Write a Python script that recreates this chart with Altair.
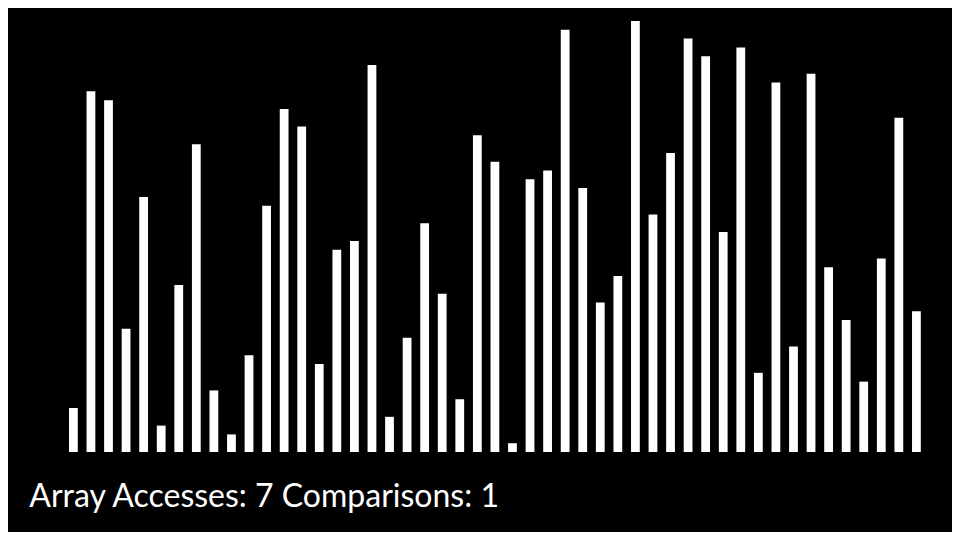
import altair as alt
import pandas as pd

# Bar values (a permutation of 1..49), read left to right
values = [5, 41, 40, 14, 29, 3, 19, 35, 7, 2, 11, 28, 39, 37, 10, 23, 24,
          44, 4, 13, 26, 18, 6, 36, 33, 1, 31, 32, 48, 30, 17, 20, 49, 27,
          34, 47, 45, 25, 46, 9, 42, 12, 43, 21, 15, 8, 22, 38, 16]
positions = list(range(len(values)))

array_accesses = 7
comparisons = 1
label = f"Array Accesses: {array_accesses} Comparisons: {comparisons}"

bars_df = pd.DataFrame({"i": positions, "v": values})
text_df = pd.DataFrame({"t": [label]})

bars = alt.Chart(bars_df).mark_bar(color="#ffffff").encode(
    x=alt.X("i:O", axis=None,
            scale=alt.Scale(paddingInner=0.5, paddingOuter=0.25)),
    y=alt.Y("v:Q", axis=None, scale=alt.Scale(domain=[0, 49], nice=False, zero=True)),
)

text = alt.Chart(text_df).mark_text(
    align="left", baseline="alphabetic", color="#ffffff",
    font="Lato", fontSize=32, fontWeight=400,
).encode(
    text="t:N",
    x=alt.value(-35.3),
    y=alt.value(485.7),
)

chart = alt.layer(bars, text).properties(
    width=860.6,
    height=431,
    padding={"left": 56.6, "top": 13, "right": 26.8, "bottom": 80},
    autosize=alt.AutoSizeParams(type="none"),
    background="#000000",
).configure_view(stroke=None)

chart.save("out.html", embed_options={"renderer": "svg", "actions": False})
